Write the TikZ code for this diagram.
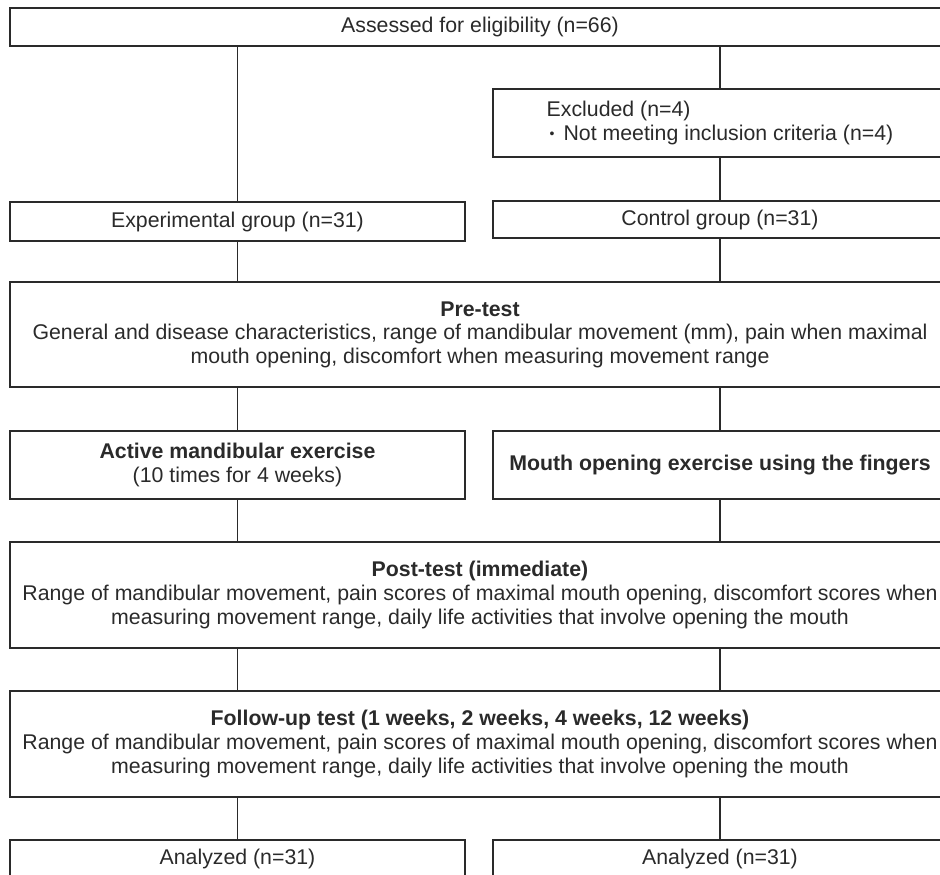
\documentclass[tikz,border=0pt]{standalone}
\usepackage{fontspec}
\setmainfont{Liberation Sans}
\definecolor{ink}{HTML}{2A2A2A}
\begin{document}
\begin{tikzpicture}[x=1pt,y=-1pt,
  box/.style={draw=ink, line width=1.4pt, text=ink, inner sep=0pt, align=center,
    font=\fontsize{21.3}{23.6}\selectfont},
  link/.style={draw=ink, line width=1.4pt}]
\useasboundingbox (0,0) rectangle (940,875);
\clip (0,0) rectangle (940,875);
% boxes
\node[box, minimum width=940pt, minimum height=38pt] (top) at (480,27) {Assessed for eligibility (n=66)};
\node[box, minimum width=454pt, minimum height=68pt, align=left] (excl) at (720,123)
  {Excluded (n=4)\\\hspace*{3pt}\raisebox{2pt}{\fontsize{14}{14}\selectfont •}\hspace{9pt}Not meeting inclusion criteria (n=4)};
\node[box, minimum width=455pt, minimum height=39pt] (exp) at (237.5,221.5) {Experimental group (n=31)};
\node[box, minimum width=454pt, minimum height=37pt] (ctrl) at (720,219.5) {Control group (n=31)};
\node[box, minimum width=940pt, minimum height=105pt] (pre) at (480,334.5)
  {\textbf{Pre-test}\\General and disease characteristics, range of mandibular movement (mm), pain when maximal\\mouth opening, discomfort when measuring movement range};
\node[box, minimum width=455pt, minimum height=68pt] (act) at (237.5,465)
  {\textbf{Active mandibular exercise}\\(10 times for 4 weeks)};
\node[box, minimum width=454pt, minimum height=68pt] (mouth) at (720,465)
  {\textbf{Mouth opening exercise using the fingers}};
\node[box, minimum width=940pt, minimum height=106pt] (post) at (480,595)
  {\textbf{Post-test (immediate)}\\Range of mandibular movement, pain scores of maximal mouth opening, discomfort scores when\\measuring movement range, daily life activities that involve opening the mouth};
\node[box, minimum width=940pt, minimum height=106pt] (fol) at (480,744)
  {\textbf{Follow-up test (1 weeks, 2 weeks, 4 weeks, 12 weeks)}\\Range of mandibular movement, pain scores of maximal mouth opening, discomfort scores when\\measuring movement range, daily life activities that involve opening the mouth};
\node[box, minimum width=455pt, minimum height=38pt] (an1) at (237.5,859) {Analyzed (n=31)};
\node[box, minimum width=454pt, minimum height=38pt] (an2) at (720,859) {Analyzed (n=31)};
% connectors
\draw[link] (exp.north) -- (exp.north |- top.south);
\draw[link] (excl.north) -- (excl.north |- top.south);
\draw[link] (excl.south) -- (ctrl.north);
\draw[link] (exp.south) -- (exp.south |- pre.north);
\draw[link] (ctrl.south) -- (ctrl.south |- pre.north);
\draw[link] (act.north) -- (act.north |- pre.south);
\draw[link] (mouth.north) -- (mouth.north |- pre.south);
\draw[link] (act.south) -- (act.south |- post.north);
\draw[link] (mouth.south) -- (mouth.south |- post.north);
\draw[link] (an1.north |- post.south) -- (an1.north |- fol.north);
\draw[link] (an2.north |- post.south) -- (an2.north |- fol.north);
\draw[link] (an1.north) -- (an1.north |- fol.south);
\draw[link] (an2.north) -- (an2.north |- fol.south);
\end{tikzpicture}
\end{document}
